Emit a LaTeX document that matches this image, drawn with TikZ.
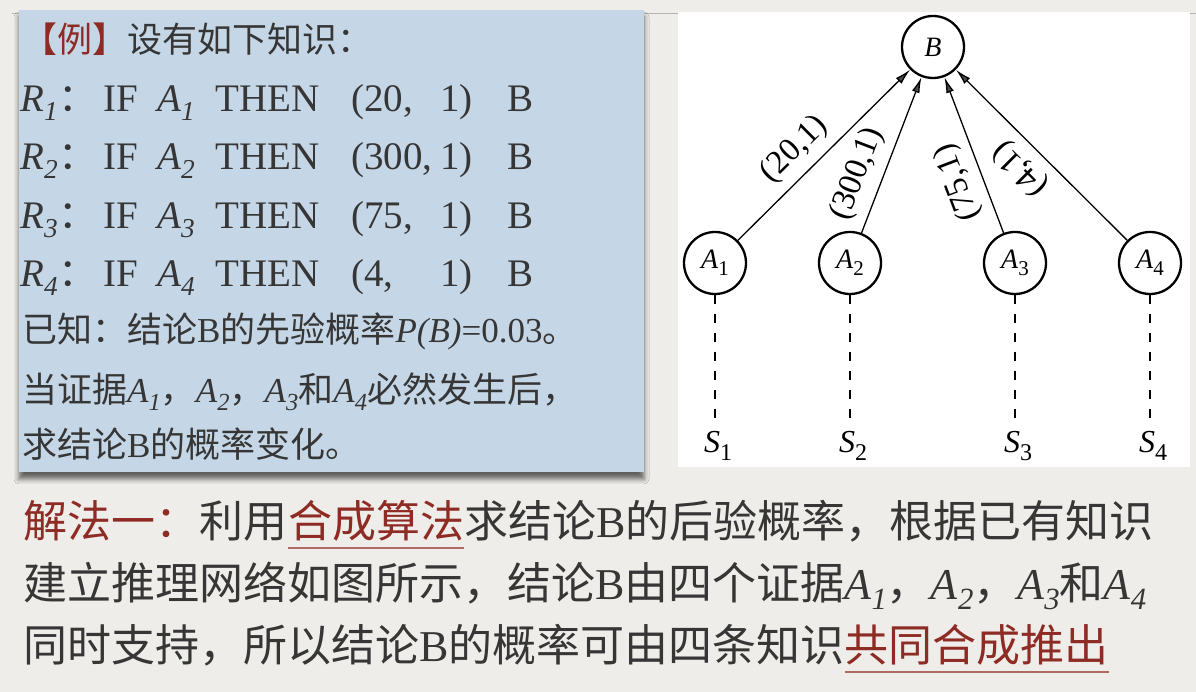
\documentclass[tikz,border=0pt]{standalone}
\usepackage{fontspec}
\usepackage{xcolor}
\usetikzlibrary{arrows.meta,shadows.blur}
\setmainfont{Liberation Serif}
\newfontfamily\cjk{Noto Sans CJK SC}
\newfontfamily\graphfont{Liberation Serif}
\definecolor{vpaper}{HTML}{EFEDE9}
\definecolor{vbox}{HTML}{C5D6E6}
\definecolor{vink}{HTML}{363636}
\definecolor{vred}{HTML}{8E2B24}
\definecolor{vline}{HTML}{B06A64}
\definecolor{vrule}{HTML}{B4B4B4}
\newcommand\idx[2]{\textit{#1}\raisebox{-.22em}{\scalebox{.7}{\textit{#2}}}}
\newcommand\nsub[2]{\textit{#1}\raisebox{-.25em}{\scalebox{.75}{#2}}}
\tikzset{
	txt/.style={inner sep=0pt, anchor=base west, text=vink},
	boxtxt/.style={txt, font=\fontsize{35}{40}\selectfont},
	ruletxt/.style={txt, font=\fontsize{39}{42}\selectfont},
	bottxt/.style={txt, font=\fontsize{44}{50}\selectfont},
	uline/.style={draw=vline, line width=1.2pt},
	vertex/.style={circle, draw=black, line width=2.3pt, minimum size=62pt, inner sep=0pt, fill=white, font={\graphfont\fontsize{28}{28}\selectfont}},
	sink/.style={inner sep=0pt, outer ysep=11pt, anchor=base, font={\graphfont\fontsize{32}{32}\selectfont}},
	rel/.style={line width=1.3pt, -{Latex[length=16pt,width=8pt]}},
	weight/.style={sloped, allow upside down, above=9pt, inner sep=0pt, font={\graphfont\fontsize{33}{33}\selectfont}},
	evid/.style={line width=1.2pt, dash pattern=on 9pt off 10pt}
}
\begin{document}
\begin{tikzpicture}[x=1pt,y=1pt]
		\useasboundingbox[fill=vpaper] (0,0) rectangle (1196,692);
		\draw[vrule, line width=1pt] (12,678) -- (1196,678);
		% knowledge box
		\fill[vbox, blur shadow={shadow xshift=0pt, shadow yshift=-7pt, shadow blur radius=5pt, shadow opacity=60}] (19,220) rectangle (644,682);
		\node[boxtxt, text=vred] (ex) at (22,639) {\cjk 【例】};
		\node[boxtxt] (given) at (ex.base east) {\cjk 设有如下知识：};
		\foreach \i/\cf/\yy in {1/20/580, 2/300/522, 3/75/463, 4/4/405}{
			\node[ruletxt] (r\i) at (20,\yy) {\idx{R}{\i}};
			\node[ruletxt] (rc\i) at (r\i.base east) {\cjk ：};
			\node[ruletxt] (if\i) at (103,\yy) {IF};
			\node[ruletxt] (ra\i) at (157,\yy) {\idx{A}{\i}};
			\node[ruletxt] (then\i) at (215,\yy) {THEN};
			\node[ruletxt] (cf\i) at (351,\yy) {(\cf,};
			\node[ruletxt] (one\i) at (440,\yy) {1)};
			\node[ruletxt] (rb\i) at (507,\yy) {B};
		}
		\node[boxtxt] (prior) at (22,349) {{\cjk 已知：结论}B{\cjk 的先验概率}\textit{P(B)}=0.03{\cjk 。}};
		\node[boxtxt] (evidence) at (22,289) {{\cjk 当证据}\idx{A}{1}{\cjk ，}\idx{A}{2}{\cjk ，}\idx{A}{3}{\cjk 和}\idx{A}{4}{\cjk 必然发生后，}};
		\node[boxtxt] (ask) at (22,234) {{\cjk 求结论}B{\cjk 的概率变化。}};
		% inference net
		\fill[white] (678,225) rectangle (1190,680);
		\node[vertex] (b) at (933,645) {\textit{B}};
		\foreach \i/\x in {1/715,2/850,3/1015,4/1150}{
			\node[vertex] (a\i) at (\x,429) {\nsub{A}{\i}};
			\node[sink] (s\i) at (\x+3,239) {\nsub{S}{\i}};
			\draw[evid] (a\i) -- (a\i |- s\i.north);
		}
		\foreach \i/\w/\p in {1/20/.43, 2/300/.32, 3/75/.38, 4/4/.52}
			\draw[rel] (a\i) -- node[weight, pos=\p] (w\i) {(\w,1)} (b);
		% solution text
		\node[bottxt, text=vred] (sol) at (23,154) {\cjk 解法一：};
		\node[bottxt] (use) at (sol.base east) {\cjk 利用};
		\node[bottxt, text=vred] (comb) at (use.base east) {\cjk 合成算法};
		\node[bottxt] (rest1) at (comb.base east) {{\cjk 求结论}B{\cjk 的后验概率，根据已有知识}};
		\node[bottxt] (line2) at (23,92) {{\cjk 建立推理网络如图所示，结论}B{\cjk 由四个证据}\idx{A}{1}{\cjk ，}\idx{A}{2}{\cjk ，}\idx{A}{3}{\cjk 和}\idx{A}{4}};
		\node[bottxt] (line3) at (23,30) {{\cjk 同时支持，所以结论}B{\cjk 的概率可由四条知识}};
		\node[bottxt, text=vred] (joint) at (line3.base east) {\cjk 共同合成推出};
		\draw[uline] ([yshift=-6pt]comb.south west) -- ([yshift=-6pt]comb.south east);
		\draw[uline] ([yshift=-6pt]joint.south west) -- ([yshift=-6pt]joint.south east);
	\end{tikzpicture}
\end{document}
